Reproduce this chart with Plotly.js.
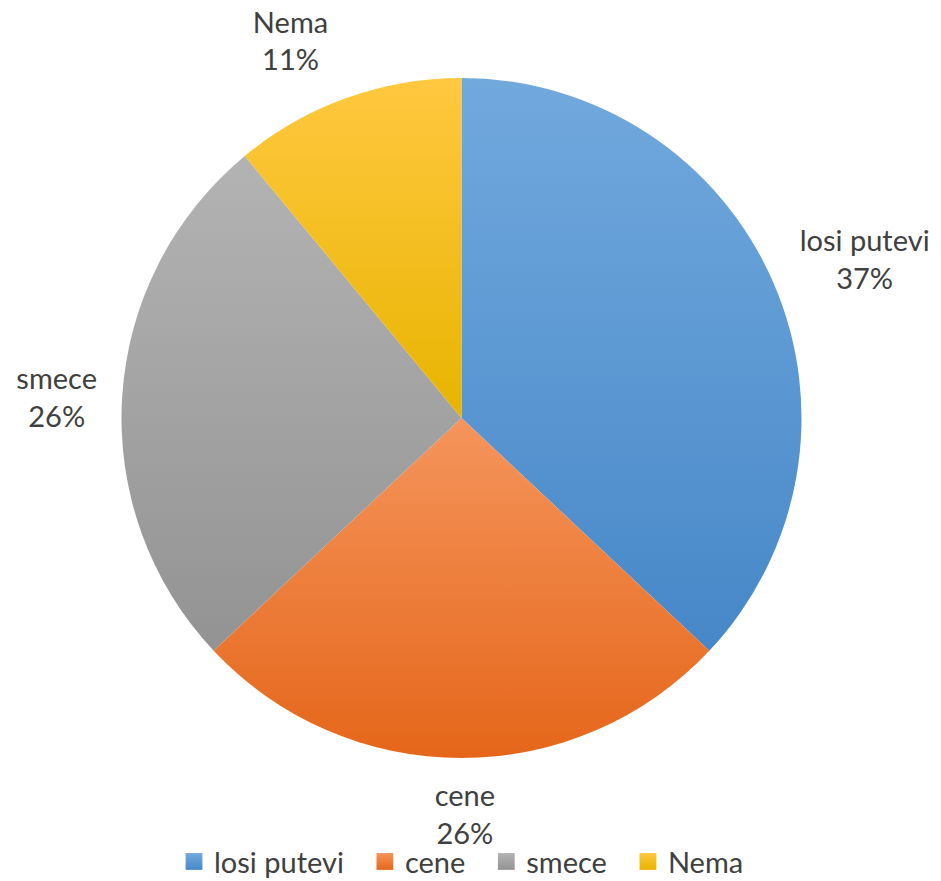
<!DOCTYPE html>
<html>
<head>
<meta charset="utf-8">
<script src="https://cdn.plot.ly/plotly-3.0.1.min.js"></script>
<style>html,body{margin:0;padding:0;background:#fff;}#chart{width:941px;height:881px;}</style>
</head>
<body>
<div id="chart"></div>
<script>
const labels = ["losi putevi", "cene", "smece", "Nema"];
const values = [37, 26, 26, 11];
const colors = ["#5B9BD5", "#ED7D31", "#A5A5A5", "#FFC000"];
const gradTop = ["#71a9dd", "#f5955c", "#b3b3b3", "#ffc840"];
const gradBottom = ["#4787c8", "#e5661a", "#939393", "#e8b400"];

const trace = {
  type: "pie",
  labels: labels,
  values: values,
  sort: false,
  direction: "clockwise",
  rotation: 0,
  marker: {colors: colors, line: {width: 0}},
  textposition: "outside",
  texttemplate: "%{label}<br>%{percent:.0%}",
  textfont: {family: "Lato, 'Open Sans', sans-serif", size: 29, color: "#404040"},
  hoverinfo: "label+percent",
  domain: {x: [0, 1], y: [0, 1]}
};

const layout = {
  width: 941,
  height: 881,
  margin: {l: 121, r: 139, t: 78, b: 123},
  paper_bgcolor: "#ffffff",
  plot_bgcolor: "#ffffff",
  showlegend: true,
  font: {family: "Lato, 'Open Sans', sans-serif", color: "#404040"},
  legend: {
    orientation: "h",
    x: 0.5, xanchor: "center",
    yref: "container", y: 0.022, yanchor: "middle",
    bgcolor: "rgba(0,0,0,0)",
    font: {size: 29, color: "#404040"},
    itemsizing: "constant"
  }
};

// small label nudges toward the reference's placement
const labelNudge = [[8, -19], [-45, 19], [-7, 0], [0, -26]];

Plotly.newPlot("chart", [trace], layout, {displayModeBar: false, staticPlot: true}).then(function (gd) {
  const svg = gd.querySelector("svg.main-svg");
  const ns = "http://www.w3.org/2000/svg";
  let defs = svg.querySelector("defs");
  if (!defs) { defs = document.createElementNS(ns, "defs"); svg.insertBefore(defs, svg.firstChild); }
  gradTop.forEach(function (c, i) {
    const lg = document.createElementNS(ns, "linearGradient");
    lg.setAttribute("id", "sliceGrad" + i);
    lg.setAttribute("x1", "0"); lg.setAttribute("y1", "0");
    lg.setAttribute("x2", "0"); lg.setAttribute("y2", "1");
    const s1 = document.createElementNS(ns, "stop");
    s1.setAttribute("offset", "0"); s1.setAttribute("stop-color", c);
    const s2 = document.createElementNS(ns, "stop");
    s2.setAttribute("offset", "1"); s2.setAttribute("stop-color", gradBottom[i]);
    lg.appendChild(s1); lg.appendChild(s2);
    defs.appendChild(lg);
  });
  const slices = gd.querySelectorAll("g.slice");
  slices.forEach(function (s, i) {
    const p = s.querySelector("path.surface");
    if (p) p.style.fill = "url(#sliceGrad" + i + ")";
    const st = s.querySelector("g.slicetext");
    if (st && labelNudge[i]) {
      const t = st.getAttribute("transform") || "";
      st.setAttribute("transform", "translate(" + labelNudge[i][0] + "," + labelNudge[i][1] + ") " + t);
    }
  });
  gd.querySelectorAll(".legend [clip-path], .legend").forEach(function (el) {
    el.removeAttribute("clip-path");
  });
  const bg = gd.querySelector(".legend rect.bg");
  if (bg) bg.style.fill = "none";
  const legPts = gd.querySelectorAll(".legend .legendpoints path");
  legPts.forEach(function (p, i) {
    p.style.fill = "url(#sliceGrad" + (i % gradTop.length) + ")";
    const t = p.getAttribute("transform") || "";
    p.setAttribute("transform", t + " scale(1.4)");
  });
  const items = gd.querySelectorAll(".legend g.traces");
  const extra = 16, n = items.length;
  items.forEach(function (g, i) {
    const t = g.getAttribute("transform") || "";
    const dx = i * extra - (n - 1) * extra / 2;
    g.setAttribute("transform", "translate(" + dx + ",0) " + t);
  });
});
</script>
</body>
</html>
